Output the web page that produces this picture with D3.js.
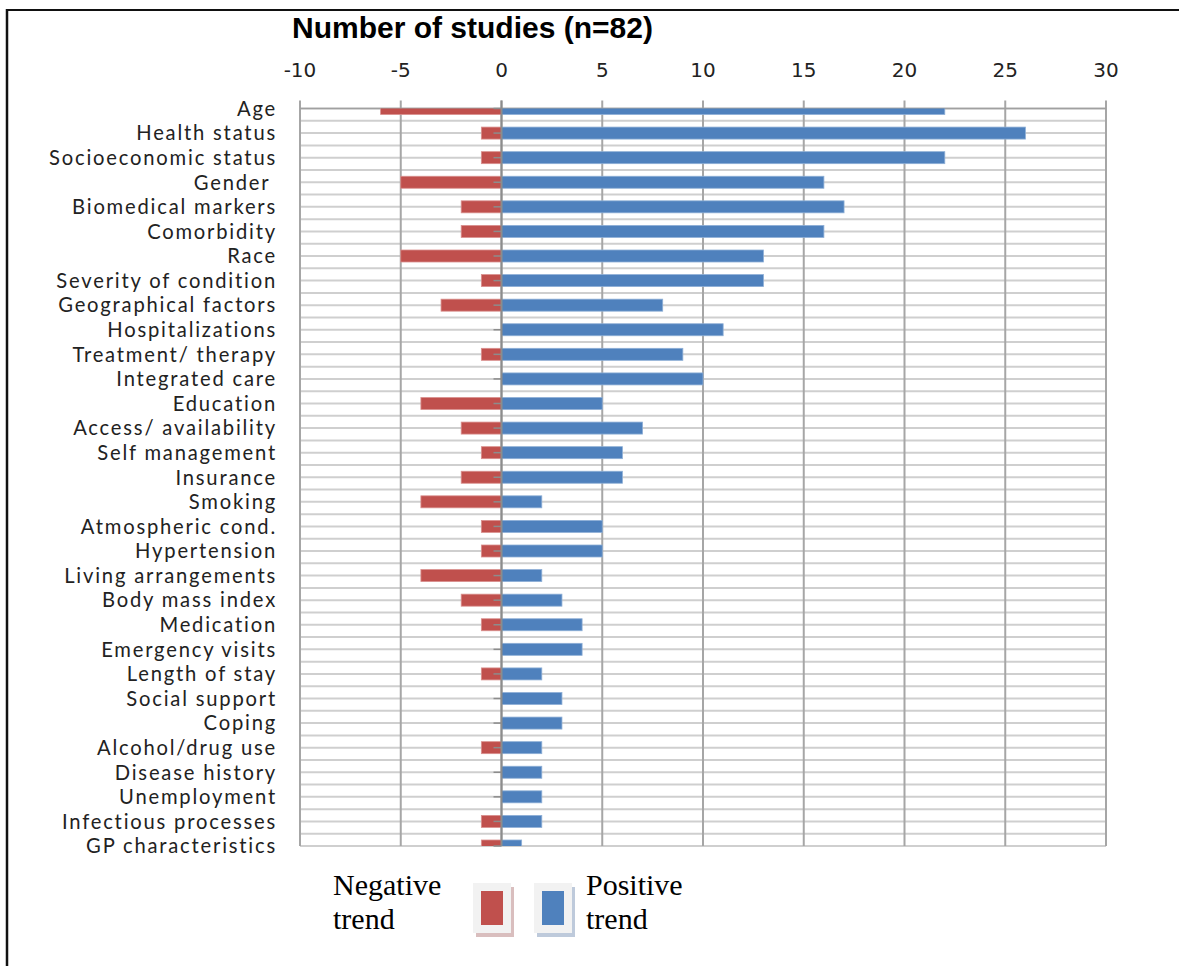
<!DOCTYPE html>
<html>
<head>
<meta charset="utf-8">
<script src="https://cdn.jsdelivr.net/npm/d3@7"></script>
<style>
  html, body { margin: 0; padding: 0; background: #fff; }
  svg { display: block; }
</style>
</head>
<body>
<svg id="chart" width="1179" height="966"></svg>
<script>
const categories = [
  "Age", "Health status", "Socioeconomic status", "Gender ", "Biomedical markers",
  "Comorbidity", "Race", "Severity of condition", "Geographical factors",
  "Hospitalizations", "Treatment/ therapy", "Integrated care", "Education",
  "Access/ availability", "Self management", "Insurance", "Smoking",
  "Atmospheric cond.", "Hypertension", "Living arrangements", "Body mass index",
  "Medication", "Emergency visits", "Length of stay", "Social support", "Coping",
  "Alcohol/drug use", "Disease history", "Unemployment", "Infectious processes",
  "GP characteristics"
];
const positiveTrend = [22, 26, 22, 16, 17, 16, 13, 13, 8, 11, 9, 10, 5, 7, 6, 6, 2, 5, 5, 2, 3, 4, 4, 2, 3, 3, 2, 2, 2, 2, 1];
const negativeTrend = [-6, -1, -1, -5, -2, -2, -5, -1, -3, 0, -1, 0, -4, -2, -1, -2, -4, -1, -1, -4, -2, -1, 0, -1, 0, 0, -1, 0, 0, -1, -1];
const xTicks = [-10, -5, 0, 5, 10, 15, 20, 25, 30];
const titleText = "Number of studies (n=82)";
const legendItems = [
  { label: ["Negative", "trend"], color: "#C0504D" },
  { label: ["Positive", "trend"], color: "#4F81BD" }
];

const svg = d3.select("#chart");
const W = 1179, H = 966;

// frame (left and top)
svg.append("line").attr("x1", 7).attr("x2", 7).attr("y1", 9).attr("y2", H).attr("stroke", "#111").attr("stroke-width", 2.5);
svg.append("line").attr("x1", 6).attr("x2", W).attr("y1", 10).attr("y2", 10).attr("stroke", "#111").attr("stroke-width", 2);

const plotTop = 108.5, plotBottom = 846;
const x = d3.scaleLinear().domain([-10, 30]).range([300, 1106]);
const y = d3.scalePoint().domain(categories).range([plotTop, plotBottom]);
const step = y.step();

svg.append("defs").append("clipPath").attr("id", "plotclip")
  .append("rect").attr("x", x(-10)).attr("y", plotTop).attr("width", x(30) - x(-10)).attr("height", plotBottom - plotTop);

// horizontal gridlines at half-steps
const half = [];
for (let i = 0; i < categories.length * 2 - 1; i++) half.push(plotTop + i * step / 2);
svg.append("g").selectAll("line").data(half).join("line")
  .attr("x1", x(-10)).attr("x2", x(30))
  .attr("y1", d => d).attr("y2", d => d)
  .attr("stroke", "#cfcfcf").attr("stroke-width", 2);

// vertical gridlines
svg.append("g").selectAll("line").data(xTicks).join("line")
  .attr("x1", d => x(d)).attr("x2", d => x(d))
  .attr("y1", plotTop - 8).attr("y2", plotBottom)
  .attr("stroke", "#a6a6a6").attr("stroke-width", 2);

svg.append("line").attr("x1", x(-10)).attr("x2", x(30)).attr("y1", plotTop).attr("y2", plotTop)
  .attr("stroke", "#a0a0a0").attr("stroke-width", 1.5);

const barH = 12;
const bars = svg.append("g").attr("clip-path", "url(#plotclip)");
bars.selectAll("rect.neg").data(categories.map((c, i) => ({ c, v: negativeTrend[i] })).filter(d => d.v !== 0))
  .join("rect").attr("class", "neg")
  .attr("x", d => x(d.v)).attr("width", d => x(0) - x(d.v))
  .attr("y", d => y(d.c) - barH / 2).attr("height", barH)
  .attr("fill", "#C0504D").attr("stroke", "#d9908e").attr("stroke-width", 0.8);
bars.selectAll("rect.pos").data(categories.map((c, i) => ({ c, v: positiveTrend[i] })))
  .join("rect").attr("class", "pos")
  .attr("x", x(0)).attr("width", d => x(d.v) - x(0))
  .attr("y", d => y(d.c) - barH / 2).attr("height", barH)
  .attr("fill", "#4F81BD").attr("stroke", "#8eafd6").attr("stroke-width", 0.8);

svg.append("g").selectAll("line").data(categories).join("line")
  .attr("x1", x(0) - 8).attr("x2", x(0))
  .attr("y1", d => y(d)).attr("y2", d => y(d))
  .attr("stroke", "#8c8c8c").attr("stroke-width", 1.5);
svg.append("line").attr("x1", x(0)).attr("x2", x(0)).attr("y1", plotTop - 8).attr("y2", plotBottom)
  .attr("stroke", "#8c8c8c").attr("stroke-width", 2);

// x tick labels
svg.append("g").selectAll("text").data(xTicks).join("text")
  .attr("x", d => x(d)).attr("y", 77)
  .attr("text-anchor", "middle")
  .attr("font-family", "DejaVu Sans, sans-serif").attr("font-size", 20)
  .attr("fill", "#222")
  .text(d => d);

// category labels
svg.append("g").selectAll("text").data(categories).join("text")
  .attr("x", 277).attr("y", d => y(d)).attr("dy", "0.36em")
  .attr("text-anchor", "end")
  .attr("font-family", "Lato, sans-serif").attr("font-size", 20.2)
  .attr("letter-spacing", 1.8)
  .attr("fill", "#222")
  .style("white-space", "pre")
  .text(d => d);

// title
svg.append("text").attr("x", 292).attr("y", 38)
  .attr("font-family", "Liberation Sans, Arial, sans-serif").attr("font-weight", "bold").attr("font-size", 30)
  .attr("fill", "#000").text(titleText);

// legend
const leg = svg.append("g");
const boxes = [473, 534];
legendItems.forEach((it, i) => {
  const bx = boxes[i];
  leg.append("rect").attr("x", bx + 3).attr("y", 887).attr("width", 38).attr("height", 50).attr("fill", i === 0 ? "#c9a3a2" : "#a3b4cc").attr("opacity", 0.7);
  leg.append("rect").attr("x", bx).attr("y", 883).attr("width", 38).attr("height", 50).attr("fill", "#f2f2f2");
  leg.append("rect").attr("x", bx + 8).attr("y", 891).attr("width", 22).attr("height", 34).attr("fill", it.color);
});
const legText = [{ x: 333, lines: legendItems[0].label }, { x: 586, lines: legendItems[1].label }];
legText.forEach(t => {
  t.lines.forEach((l, j) => {
    leg.append("text").attr("x", t.x).attr("y", 895 + j * 34)
      .attr("font-family", "Liberation Serif, Times New Roman, serif").attr("font-size", 30)
      .attr("fill", "#000").text(l);
  });
});
</script>
</body>
</html>
